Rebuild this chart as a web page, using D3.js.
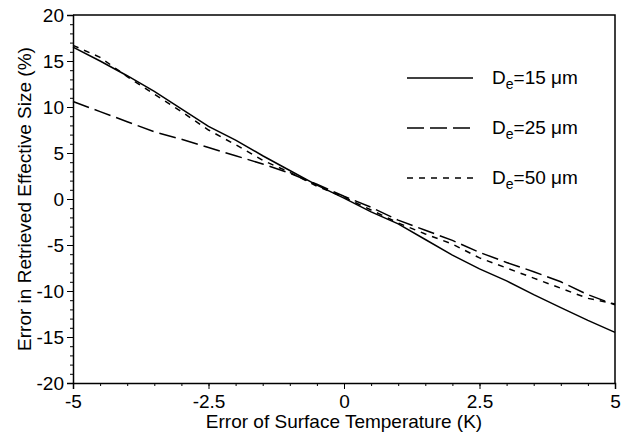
<!DOCTYPE html>
<meta charset="utf-8">
<html>
<script src="https://d3js.org/d3.v7.min.js"></script>
<style>
  body { margin: 0; background: #fff; }
  text { font-family: "Liberation Sans", Arial, sans-serif; fill: #000; }
</style>
<div id="chart"></div>
<script>

// values, every 0.5 K
var dT = [-5, -4.5, -4, -3.5, -3, -2.5, -2, -1.5, -1, -0.5, 0, 0.5, 1, 1.5, 2, 2.5, 3, 3.5, 4, 4.5, 5];
var de15 = [16.5, 15.0, 13.4, 11.7, 9.8, 7.9, 6.4, 4.7, 3.1, 1.5, 0.1, -1.4, -2.7, -4.4, -6.1, -7.6, -8.9, -10.4, -11.8, -13.2, -14.5];
var de25 = [10.6, 9.5, 8.4, 7.3, 6.5, 5.6, 4.7, 3.8, 2.8, 1.6, 0.3, -0.9, -2.3, -3.4, -4.5, -5.8, -6.9, -7.9, -9.0, -10.4, -11.5];
var de50 = [16.7, 15.4, 13.3, 11.4, 9.5, 7.5, 5.9, 4.2, 2.9, 1.4, 0.2, -1.2, -2.6, -3.8, -4.9, -6.4, -7.5, -8.6, -9.7, -10.8, -11.4];
var seriesNames = ["15", "25", "50"];
var xTicks = [-5, -2.5, 0, 2.5, 5];
var yTicks = [-20, -15, -10, -5, 0, 5, 10, 15, 20];

var width = 627, height = 435;
var margin = {left: 73, right: 12, top: 15, bottom: 52};

var svg = d3.select("#chart").append("svg")
    .attr("width", width)
    .attr("height", height);

var x = d3.scaleLinear().domain([-5, 5]).range([margin.left, width - margin.right]);
var y = d3.scaleLinear().domain([-20, 20]).range([height - margin.bottom, margin.top]);

var series = [
  {name: seriesNames[0], values: de15, dash: null},
  {name: seriesNames[1], values: de25, dash: "17,6"},
  {name: seriesNames[2], values: de50, dash: "6,6"}
];

// minor ticks
svg.append("g")
    .attr("transform", "translate(0," + y(-20) + ")")
    .call(d3.axisBottom(x).tickValues(d3.range(-5, 5.01, 0.5)).tickSize(3).tickFormat(""))
    .call(g => g.select(".domain").remove());
svg.append("g")
    .attr("transform", "translate(" + x(-5) + ",0)")
    .call(d3.axisLeft(y).tickValues(d3.range(-20, 20.01, 1)).tickSize(3).tickFormat(""))
    .call(g => g.select(".domain").remove());

// major ticks + labels (plain hyphen for minus, like the original)
var fmt = function(d) { return String(d); };

var xAxis = svg.append("g")
    .attr("transform", "translate(0," + y(-20) + ")")
    .call(d3.axisBottom(x).tickValues(xTicks).tickSize(6).tickPadding(6).tickFormat(fmt));
xAxis.selectAll("text").style("font-size", "19px");

var yAxis = svg.append("g")
    .attr("transform", "translate(" + x(-5) + ",0)")
    .call(d3.axisLeft(y).tickValues(yTicks).tickSize(6).tickPadding(3).tickFormat(fmt));
yAxis.selectAll("text").style("font-size", "19px");

svg.selectAll(".domain").attr("stroke-width", 1.5);

// frame top and right
svg.append("path")
    .attr("d", "M" + x(-5) + "," + y(20) + "H" + x(5) + "V" + y(-20))
    .attr("fill", "none")
    .attr("stroke", "#000")
    .attr("stroke-width", 1.5);

var line = d3.line()
    .x(function(d, i) { return x(dT[i]); })
    .y(function(d) { return y(d); });

svg.selectAll("path.series")
  .data(series)
  .enter().append("path")
    .attr("class", "series")
    .attr("d", function(d) { return line(d.values); })
    .attr("fill", "none")
    .attr("stroke", "#000")
    .attr("stroke-width", 1.5)
    .attr("stroke-dasharray", function(d) { return d.dash; });

// legend
var legend = svg.selectAll(".legend")
  .data(series)
  .enter().append("g")
    .attr("class", "legend")
    .attr("transform", function(d, i) { return "translate(407," + (78 + i * 50) + ")"; });

legend.append("line")
    .attr("x1", 0).attr("x2", 66)
    .attr("stroke", "#000")
    .attr("stroke-width", 1.5)
    .attr("stroke-dasharray", function(d) { return d.dash; });

var lt = legend.append("text")
    .attr("x", 85)
    .attr("y", 6)
    .style("font-size", "19px");
lt.append("tspan").text("D");
lt.append("tspan").attr("dy", 5).style("font-size", "14px").text("e");
lt.append("tspan").attr("dy", -5).text(function(d) { return "=" + d.name + " \u03bcm"; });

// axis titles
svg.append("text")
    .attr("x", (x(-5) + x(5)) / 2)
    .attr("y", 428)
    .attr("text-anchor", "middle")
    .style("font-size", "19px")
    .text("Error of Surface Temperature (K)");

svg.append("text")
    .attr("transform", "translate(31," + y(0) + ") rotate(-90)")
    .attr("text-anchor", "middle")
    .style("font-size", "19px")
    .text("Error in Retrieved Effective Size (%)");
</script>
</html>
